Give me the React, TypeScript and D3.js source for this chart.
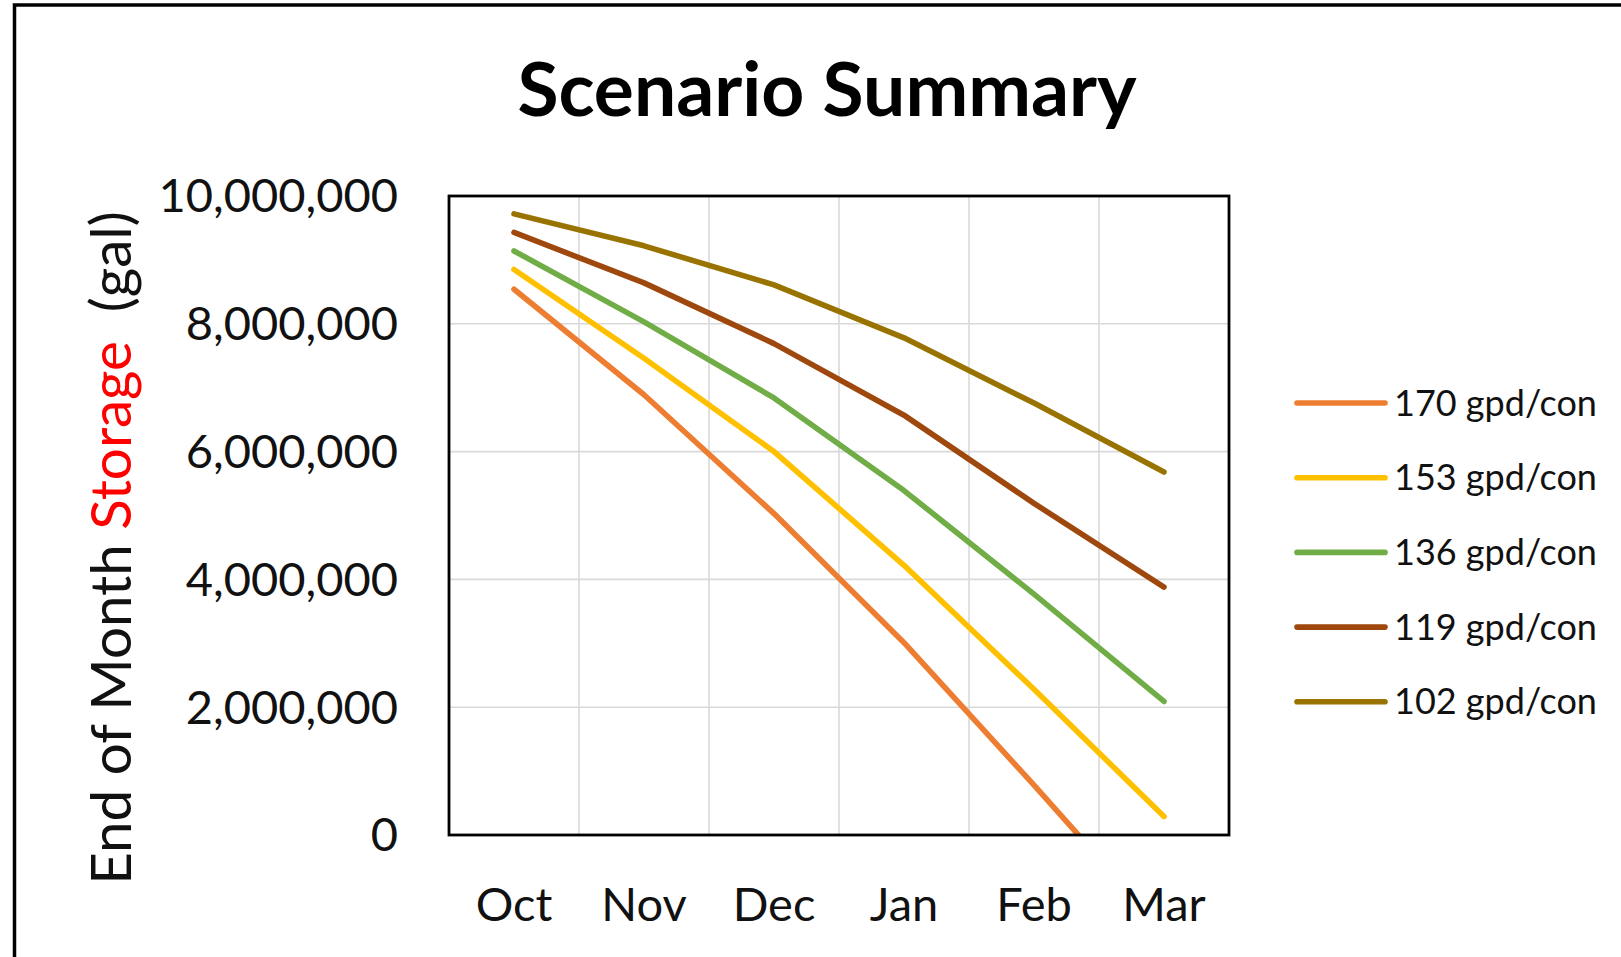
import React, { useEffect, useRef } from 'react';
import * as d3 from 'd3';

// months on the x axis
const months = ['Oct', 'Nov', 'Dec', 'Jan', 'Feb', 'Mar'];

// end of month storage (gal) for each usage scenario
const gpd170 = [8540000, 6890000, 5030000, 3010000, 780000, -1500000];
const gpd153 = [8850000, 7460000, 6000000, 4220000, 2280000, 290000];
const gpd136 = [9140000, 8030000, 6840000, 5390000, 3770000, 2090000];
const gpd119 = [9430000, 8640000, 7690000, 6570000, 5190000, 3880000];
const gpd102 = [9720000, 9220000, 8610000, 7780000, 6760000, 5680000];

const seriesNames = ['170 gpd/con', '153 gpd/con', '136 gpd/con', '119 gpd/con', '102 gpd/con'];
const seriesColors = ['#ed7d31', '#ffc000', '#70ad47', '#9e480e', '#997300'];

const yTicks = [0, 2000000, 4000000, 6000000, 8000000, 10000000];

const W = 1621;
const H = 957;
const FONT = 'Lato, "Open Sans", sans-serif';

const ScenarioChart = () => {
    const chartRef = useRef<SVGSVGElement | null>(null);

    const margin = { top: 196, right: 392, bottom: 122, left: 449 };
    const plotW = W - margin.left - margin.right;
    const plotH = H - margin.top - margin.bottom;

    const createChart = () => {
        const svg = d3.select(chartRef.current);
        svg.selectAll('*').remove();

        const series = [gpd170, gpd153, gpd136, gpd119, gpd102];

        // scales
        const xScale = d3.scaleBand<string>().domain(months).range([0, plotW]).padding(0);
        const xMid = (m: string) => (xScale(m) as number) + xScale.bandwidth() / 2;
        const yScale = d3.scaleLinear().domain([0, 10000000]).range([plotH, 0]);

        // outer frame
        svg.append('rect')
            .attr('x', 14.5)
            .attr('y', 5)
            .attr('width', W)
            .attr('height', H)
            .attr('fill', 'white')
            .attr('stroke', 'black')
            .attr('stroke-width', 3.5);

        // title
        svg.append('text')
            .attr('x', 827)
            .attr('y', 116)
            .attr('text-anchor', 'middle')
            .attr('font-family', FONT)
            .attr('font-weight', 700)
            .attr('font-size', 75)
            .text('Scenario Summary');

        svg.append('defs').append('clipPath')
            .attr('id', 'plot-clip')
            .append('rect')
            .attr('width', plotW)
            .attr('height', plotH);

        const g = svg.append('g').attr('transform', `translate(${margin.left},${margin.top})`);

        // gridlines
        g.append('g')
            .selectAll('line')
            .data(yTicks.slice(1, -1))
            .join('line')
            .attr('x1', 0)
            .attr('x2', plotW)
            .attr('y1', d => yScale(d))
            .attr('y2', d => yScale(d))
            .attr('stroke', '#d9d9d9')
            .attr('stroke-width', 1.6);

        g.append('g')
            .selectAll('line')
            .data(months.slice(1))
            .join('line')
            .attr('x1', d => xScale(d) as number)
            .attr('x2', d => xScale(d) as number)
            .attr('y1', 0)
            .attr('y2', plotH)
            .attr('stroke', '#d9d9d9')
            .attr('stroke-width', 1.6);

        // lines
        const line = d3.line<number>()
            .x((d, i) => xMid(months[i]))
            .y(d => yScale(d));

        g.append('g')
            .attr('clip-path', 'url(#plot-clip)')
            .selectAll('path')
            .data(series)
            .join('path')
            .attr('d', d => line(d))
            .attr('fill', 'none')
            .attr('stroke', (d, i) => seriesColors[i])
            .attr('stroke-width', 5.6)
            .attr('stroke-linecap', 'round')
            .attr('stroke-linejoin', 'round');

        // plot border
        g.append('rect')
            .attr('width', plotW)
            .attr('height', plotH)
            .attr('fill', 'none')
            .attr('stroke', 'black')
            .attr('stroke-width', 2.8);

        // y tick labels
        const fmt = d3.format(',');
        g.append('g')
            .selectAll('text')
            .data(yTicks)
            .join('text')
            .attr('x', -51)
            .attr('y', d => yScale(d))
            .attr('dy', '0.35em')
            .attr('text-anchor', 'end')
            .attr('font-family', FONT)
            .attr('font-size', 47)
            .attr('fill', '#111')
            .text(d => fmt(d));

        // x tick labels
        g.append('g')
            .selectAll('text')
            .data(months)
            .join('text')
            .attr('x', d => xMid(d))
            .attr('y', plotH + 86)
            .attr('text-anchor', 'middle')
            .attr('font-family', FONT)
            .attr('font-size', 47)
            .attr('fill', '#111')
            .text(d => d);

        // y axis title, "Storage" in red
        const yTitle = svg.append('text')
            .attr('transform', 'translate(131,548) rotate(-90)')
            .attr('text-anchor', 'middle')
            .attr('font-family', FONT)
            .attr('font-size', 56.5)
            .attr('fill', '#111')
            .style('white-space', 'pre');
        yTitle.append('tspan').text('End of Month ');
        yTitle.append('tspan').attr('fill', 'red').text('Storage');
        yTitle.append('tspan').text('  (gal)');

        // legend
        const legend = svg.append('g')
            .selectAll('g')
            .data(seriesNames)
            .join('g')
            .attr('transform', (d, i) => `translate(1297,${403 + i * 74.7})`);

        legend.append('line')
            .attr('x1', 0)
            .attr('x2', 88)
            .attr('stroke', (d, i) => seriesColors[i])
            .attr('stroke-width', 5.6)
            .attr('stroke-linecap', 'round');

        legend.append('text')
            .attr('x', 97)
            .attr('dy', '0.35em')
            .attr('font-family', FONT)
            .attr('font-size', 36)
            .attr('fill', '#111')
            .text(d => d);
    };

    useEffect(() => {
        createChart();
    }, []);

    return (
        <svg
            ref={chartRef}
            width={W}
            height={H}
            style={{ position: 'absolute', left: 0, top: 0, display: 'block', background: 'white' }}
        />
    );
};

export default function App() {
    return <ScenarioChart />;
}
